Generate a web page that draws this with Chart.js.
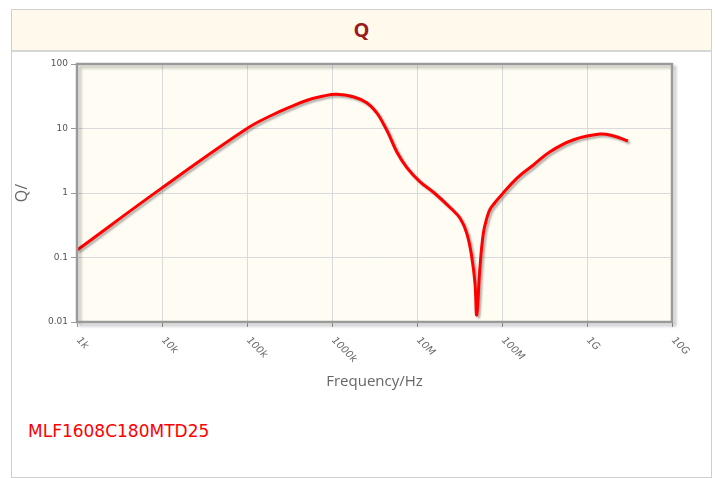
<!DOCTYPE html>
<html>
<head>
<meta charset="utf-8">
<script src="https://cdn.jsdelivr.net/npm/chart.js@4/dist/chart.umd.min.js"></script>
<style>
  body { margin: 0; background: #fff; width: 715px; height: 478px; overflow: hidden; position: relative; }
  #panel { position: absolute; left: 11px; top: 9px; width: 699px; height: 467px; border: 1px solid #cfcfcf; background: #fff; }
  #head { height: 40px; background: #fffaeb; border-bottom: 2px solid #d6d6d6; text-align: center;
          font: bold 20px "Open Sans", "DejaVu Sans", sans-serif; color: #9b1c1c; line-height: 40px; }
  #legend { position: absolute; left: 28px; top: 421px; font: 17px "DejaVu Sans", sans-serif; color: #ff0000; }
  canvas { position: absolute; left: 0; top: 0; }
</style>
</head>
<body>
<div id="panel"><div id="head">Q</div></div>
<canvas id="qChart" width="715" height="400"></canvas>
<div id="legend">MLF1608C180MTD25</div>
<script>
// data
const seriesName = 'MLF1608C180MTD25';
const freqHz = [1e3, 1e4, 1e5, 2.04e5, 3.2e5, 5.0e5, 7.9e5, 1.13e6, 1.78e6, 2.56e6, 3.36e6, 4.0e6, 4.6e6,
  5.77e6, 7.56e6, 1.08e7, 1.6e7, 2.5e7, 3.21e7, 3.85e7, 4.4e7, 4.81e7, 5.04e7, 5.51e7, 6.03e7, 6.6e7, 7.23e7,
  8.28e7, 9.47e7, 1.49e8, 2.34e8, 3.67e8, 6.84e8, 1.42e9, 2.02e9, 3.03e9];
const qValues = [0.13, 1.2, 10, 16.5, 21.5, 27.2, 31.9, 33.9, 31.1, 25.1, 17.5, 12.0, 8.4,
  4.37, 2.5, 1.5, 1.0, 0.58, 0.405, 0.237, 0.103, 0.04, 0.0129, 0.072, 0.237, 0.40, 0.56,
  0.713, 0.877, 1.69, 2.72, 4.37, 6.64, 8.2, 7.7, 6.4];
const xTicks = [1e3, 1e4, 1e5, 1e6, 1e7, 1e8, 1e9, 1e10];
const xTickLabels = ['1k', '10k', '100k', '1000k', '10M', '100M', '1G', '10G'];
const yTicks = [0.01, 0.1, 1, 10, 100];
const yTickLabels = ['0.01', '0.1', '1', '10', '100'];

const points = freqHz.map((f, i) => ({ x: f, y: qValues[i] }));

// plot background + frame with shadow, rotated x labels, line shadow
const plotDecor = {
  id: 'plotDecor',
  beforeDraw(chart) {
    const { ctx, chartArea: a } = chart;
    ctx.save();
    ctx.fillStyle = '#fffcf3';
    ctx.fillRect(a.left, a.top, a.right - a.left, a.bottom - a.top);
    ctx.restore();
  },
  beforeDatasetsDraw(chart) {
    const ctx = chart.ctx;
    ctx.save();
    ctx.shadowColor = 'rgba(0,0,0,0.3)';
    ctx.shadowOffsetX = 2;
    ctx.shadowOffsetY = 2;
    ctx.shadowBlur = 2;
  },
  afterDatasetsDraw(chart) {
    chart.ctx.restore();
  },
  afterDraw(chart) {
    const { ctx, chartArea: a } = chart;
    ctx.save();
    ctx.shadowColor = 'rgba(0,0,0,0.25)';
    ctx.shadowOffsetX = 3;
    ctx.shadowOffsetY = 3;
    ctx.shadowBlur = 3;
    ctx.strokeStyle = '#9a9a9a';
    ctx.lineWidth = 2.5;
    ctx.strokeRect(a.left, a.top, a.right - a.left, a.bottom - a.top);
    ctx.restore();

    const xs = chart.scales.x;
    ctx.save();
    ctx.fillStyle = '#666';
    ctx.font = 'italic 10px "DejaVu Sans", sans-serif';
    ctx.textAlign = 'left';
    ctx.textBaseline = 'middle';
    xTicks.forEach((v, i) => {
      const px = xs.getPixelForValue(v);
      ctx.save();
      ctx.translate(px + 1, a.bottom + 17);
      ctx.rotate(Math.PI / 4);
      ctx.fillText(xTickLabels[i], 0, 0);
      ctx.restore();
    });
    ctx.restore();
  }
};

new Chart(document.getElementById('qChart'), {
  type: 'line',
  data: {
    datasets: [{
      label: seriesName,
      data: points,
      borderColor: '#ff0000',
      borderWidth: 3,
      pointRadius: 0,
      fill: false,
      tension: 0.4
    }]
  },
  options: {
    responsive: false,
    animation: false,
    layout: { padding: { left: 13, top: 64, right: 43, bottom: 9 } },
    plugins: { legend: { display: false }, tooltip: { enabled: false } },
    scales: {
      x: {
        type: 'logarithmic',
        min: 1e3,
        max: 1e10,
        afterBuildTicks: s => { s.ticks = xTicks.map(v => ({ value: v })); },
        afterFit: s => { s.height = 69; },
        ticks: { display: false },
        grid: { color: '#dadada', lineWidth: 1, drawTicks: true, tickLength: 5, tickColor: '#999' },
        border: { display: false },
        title: {
          display: true,
          text: 'Frequency/Hz',
          color: '#666',
          font: { family: '"Open Sans", sans-serif', size: 15 },
          padding: { top: 0, bottom: 0 }
        }
      },
      y: {
        type: 'logarithmic',
        min: 0.01,
        max: 100,
        afterBuildTicks: s => { s.ticks = yTicks.map(v => ({ value: v })); },
        afterFit: s => { s.width = 64; },
        ticks: {
          color: '#555',
          font: { family: '"DejaVu Sans", sans-serif', size: 9 },
          padding: 3,
          callback: (v, i) => yTickLabels[i]
        },
        grid: { color: '#dadada', lineWidth: 1, drawTicks: true, tickLength: 6, tickColor: '#999' },
        border: { display: false },
        title: {
          display: true,
          text: 'Q/',
          color: '#666',
          font: { family: '"Open Sans", sans-serif', size: 16 },
          padding: { top: 0, bottom: 0 }
        }
      }
    }
  },
  plugins: [plotDecor]
});
</script>
</body>
</html>
